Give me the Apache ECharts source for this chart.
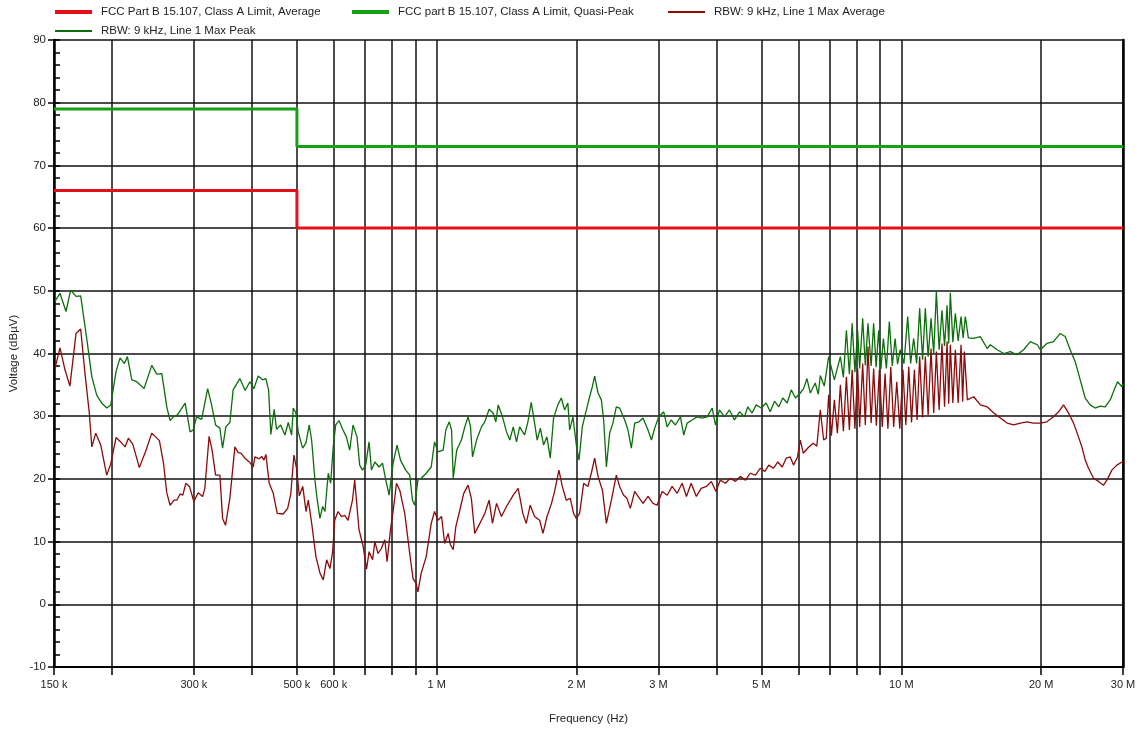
<!DOCTYPE html>
<html lang="en">
<head>
    <meta charset="UTF-8">
    <title>Conducted emissions - Line 1</title>
    <script src="https://cdn.jsdelivr.net/npm/echarts@6.0.0/dist/echarts.min.js"></script>
    <style>
        html, body {
            margin: 0;
            padding: 0;
            background: #fff;
        }

        #main {
            width: 1140px;
            height: 730px;
        }
    </style>
</head>
<body>
<div id="main"></div>
<script type="text/javascript">
    // limit lines (kHz / dBuV)
    var limitFreqKHz = [150, 500, 500, 30000];
    var avgLimit = [66, 66, 60, 60];
    var qpLimit = [79, 79, 73, 73];

    // x axis grid lines and labels (kHz)
    var gridFreqKHz = [150, 200, 300, 400, 500, 600, 700, 800, 900, 1000, 2000, 3000, 4000, 5000,
        6000, 7000, 8000, 9000, 10000, 20000, 30000];
    var labelFreqKHz = [150, 300, 500, 600, 1000, 2000, 3000, 5000, 10000, 20000, 30000];

    // RBW 9 kHz, Line 1 Max Peak  [kHz, dBuV]
    var peakTrace = [[150.7, 48.3], [154.5, 49.6], [159.2, 46.7], [162.9, 50.1], [167.3, 49.1], [171.2, 49.2], [176.2, 42.7],
        [180.9, 36.3], [185.3, 33.4], [190.0, 32.1], [194.8, 31.3], [198.7, 31.8], [204.0, 37.1], [208.1, 39.3], [212.6, 38.4],
        [215.8, 39.5], [220.6, 35.8], [226.1, 35.5], [234.4, 34.4], [243.5, 38.1], [249.6, 36.7], [256.0, 36.8], [262.3, 31.5],
        [266.7, 29.3], [271.1, 29.9], [276.6, 30.2], [287.3, 32.1], [294.5, 27.5], [299.0, 27.8], [304.1, 29.9], [311.8, 29.5],
        [321.2, 34.4], [327.6, 31.8], [334.1, 28.6], [341.3, 28.1], [345.9, 24.9], [351.5, 28.3], [358.6, 29.0], [364.5, 34.2],
        [376.8, 36.0], [386.9, 34.1], [396.0, 35.5], [404.0, 34.4], [412.7, 36.4], [421.8, 35.8], [428.7, 36.0], [434.5, 34.2],
        [439.4, 27.1], [446.7, 31.1], [452.0, 27.9], [461.2, 28.6], [471.1, 27.0], [479.0, 29.0], [487.1, 27.0], [491.0, 31.3],
        [497.6, 30.5], [503.3, 27.5], [514.4, 24.9], [522.8, 25.7], [531.5, 28.6], [537.8, 26.2], [546.7, 19.8], [553.0, 16.6],
        [560.4, 13.7], [568.0, 15.6], [574.5, 14.8], [584.0, 20.9], [591.0, 19.3], [598.5, 25.1], [606.0, 28.6], [616.0, 29.3],
        [628.3, 27.8], [638.8, 26.7], [649.5, 24.6], [660.3, 28.6], [673.5, 26.7], [682.5, 22.2], [691.9, 21.4], [703.2, 22.2],
        [714.9, 25.9], [723.5, 21.4], [735.6, 22.7], [751.5, 21.9], [764.2, 22.5], [776.8, 19.8], [789.6, 17.4], [805.3, 22.5],
        [821.3, 25.4], [835.3, 23.0], [857.4, 21.4], [874.6, 20.6], [886.4, 16.6], [896.6, 15.8], [910.6, 19.8], [926.0, 20.1],
        [949.0, 20.9], [972.9, 21.9], [989.0, 25.9], [1006, 24.3], [1032, 24.6], [1046, 27.8], [1064, 29.1], [1076, 27.8],
        [1085, 20.1], [1104, 24.6], [1130, 26.2], [1149, 28.3], [1168, 29.9], [1182, 28.3], [1194, 23.5], [1218, 26.2],
        [1248, 28.3], [1269, 29.1], [1296, 31.1], [1322, 30.5], [1340, 29.1], [1356, 31.8], [1385, 29.9], [1413, 27.5],
        [1436, 26.2], [1461, 28.3], [1485, 25.9], [1508, 28.3], [1545, 27.0], [1571, 29.1], [1597, 32.2], [1616, 29.9],
        [1645, 26.2], [1671, 28.1], [1698, 25.4], [1726, 26.7], [1755, 23.3], [1784, 29.7], [1822, 31.8], [1854, 32.9],
        [1884, 31.0], [1915, 32.1], [1932, 27.8], [1964, 29.9], [1997, 25.4], [2024, 23.0], [2057, 28.3], [2091, 30.5],
        [2133, 33.1], [2162, 34.7], [2187, 36.4], [2224, 33.7], [2261, 32.6], [2287, 29.4], [2318, 21.9], [2356, 27.3],
        [2394, 28.9], [2435, 31.5], [2475, 31.3], [2538, 29.4], [2580, 27.8], [2623, 24.9], [2667, 28.9], [2725, 29.1],
        [2779, 29.7], [2849, 27.8], [2898, 26.2], [2945, 28.1], [3005, 29.9], [3080, 30.7], [3133, 28.3], [3195, 29.4],
        [3264, 28.6], [3346, 29.9], [3401, 27.0], [3459, 28.9], [3546, 29.4], [3634, 29.9], [3727, 29.7], [3819, 29.9],
        [3916, 31.3], [3980, 28.6], [4060, 31.0], [4162, 29.9], [4266, 31.0], [4373, 29.4], [4483, 30.7], [4596, 29.9],
        [4672, 31.5], [4773, 30.5], [4870, 31.8], [4993, 31.3], [5118, 32.1], [5220, 30.7], [5333, 32.4], [5448, 31.5],
        [5557, 32.9], [5680, 32.1], [5794, 34.2], [5918, 32.9], [6060, 33.7], [6160, 34.4], [6264, 36.0], [6368, 33.7],
        [6527, 35.3], [6625, 33.5], [6692, 36.5], [6825, 34.8], [6975, 39.5], [7175, 35.8], [7392, 39.5], [7503, 36.2],
        [7616, 43.7], [7730, 36.7], [7835, 44.8], [7944, 37.0], [8054, 43.7], [8133, 37.6], [8256, 45.6], [8365, 38.1],
        [8477, 44.8], [8609, 38.0], [8717, 44.8], [8825, 37.8], [8937, 43.7], [9035, 37.5], [9149, 42.4], [9286, 37.6],
        [9423, 45.1], [9560, 38.0], [9696, 42.4], [9815, 38.3], [9938, 40.6], [10130, 38.4], [10320, 45.9], [10472, 38.4],
        [10630, 42.4], [10788, 38.4], [10950, 47.2], [11110, 39.0], [11263, 47.2], [11420, 39.5], [11587, 45.6], [11740, 40.0],
        [11896, 49.9], [12060, 40.6], [12232, 46.9], [12388, 41.2], [12543, 47.7], [12646, 41.6], [12749, 49.7], [12908, 41.8],
        [13070, 46.4], [13253, 42.0], [13444, 45.9], [13584, 42.5], [13734, 45.9], [13940, 42.5], [14312, 42.4], [14794, 42.7],
        [15300, 40.8], [15546, 41.4], [16080, 40.6], [16620, 40.0], [17166, 40.3], [17740, 39.8], [18330, 40.6], [18956, 41.9],
        [19620, 41.4], [19919, 40.6], [20570, 41.6], [21260, 41.9], [21975, 43.2], [22527, 42.7], [23092, 40.6], [23672, 38.7],
        [24266, 35.8], [24875, 32.9], [25499, 31.8], [26139, 31.3], [26795, 31.6], [27468, 31.5], [28158, 32.6], [28720, 34.2],
        [29200, 35.5], [29850, 34.7], [30000, 35.2]];

    // RBW 9 kHz, Line 1 Max Average  [kHz, dBuV]
    var avgTrace = [[150.7, 37.6], [154.5, 40.9], [158.4, 37.4], [162.3, 34.8], [167.3, 43.2], [171.2, 43.9], [174.9, 36.8],
        [178.7, 30.5], [180.9, 25.1], [184.5, 27.3], [189.1, 25.4], [194.8, 20.6], [198.7, 22.4], [204.0, 26.6], [208.8, 25.9],
        [213.3, 25.1], [216.9, 26.5], [221.7, 25.5], [229.0, 21.8], [236.8, 24.6], [243.5, 27.3], [252.9, 26.1], [258.1, 22.5],
        [262.3, 17.8], [266.7, 15.8], [272.0, 16.6], [275.7, 16.6], [280.2, 17.6], [284.0, 17.4], [288.3, 19.3], [293.5, 18.8],
        [300.0, 16.4], [306.5, 17.8], [313.3, 17.2], [316.8, 18.5], [323.6, 26.8], [328.4, 24.6], [334.1, 20.6], [341.3, 20.6],
        [345.9, 13.7], [351.0, 12.6], [358.6, 16.9], [367.6, 25.1], [373.7, 24.2], [378.7, 24.1], [386.3, 23.3], [396.0, 22.6],
        [402.6, 21.9], [406.0, 23.5], [414.8, 23.2], [419.8, 23.6], [424.6, 23.0], [428.7, 23.9], [435.8, 19.3], [444.6, 17.7],
        [453.5, 14.5], [467.1, 14.4], [477.6, 15.3], [485.0, 17.6], [492.6, 23.8], [499.3, 21.6], [506.0, 17.3], [514.7, 18.8],
        [523.0, 14.8], [529.0, 16.6], [538.0, 12.9], [549.4, 7.6], [560.4, 5.0], [569.7, 3.9], [579.4, 7.1], [588.9, 5.7],
        [596.9, 8.4], [603.0, 13.4], [613.0, 14.8], [623.5, 14.0], [633.6, 14.2], [644.2, 13.4], [658.5, 16.6], [665.8, 19.8],
        [680.2, 11.9], [694.0, 9.3], [706.0, 5.6], [715.1, 8.4], [727.5, 7.1], [735.6, 10.0], [747.5, 8.1], [760.0, 8.9],
        [772.9, 10.3], [781.8, 6.8], [795, 11.9], [808, 15.6], [819, 19.3], [832.4, 18.2], [853.2, 14.5], [874.6, 8.1],
        [889.2, 4.1], [903, 3.3], [910.6, 2.0], [926, 5.0], [949, 7.6], [973, 12.9], [989, 14.8], [1006, 13.4], [1024, 14.0],
        [1040, 9.7], [1058, 11.3], [1070, 9.5], [1085, 8.7], [1099, 12.4], [1121, 15.0], [1143, 17.7], [1168, 19.0],
        [1187, 16.9], [1207, 11.3], [1238, 12.9], [1269, 14.5], [1296, 16.6], [1318, 12.9], [1345, 16.1], [1378, 14.0],
        [1413, 15.6], [1461, 17.4], [1497, 18.5], [1532, 14.5], [1558, 12.9], [1589, 15.8], [1624, 14.0], [1665, 13.4],
        [1693, 11.3], [1727, 14.0], [1766, 16.1], [1793, 18.0], [1832, 21.4], [1863, 18.8], [1900, 16.6], [1938, 16.9],
        [1970, 14.5], [1997, 13.7], [2030, 14.5], [2071, 19.3], [2115, 18.8], [2151, 20.9], [2187, 23.3], [2224, 20.4],
        [2273, 18.2], [2318, 12.9], [2376, 16.6], [2435, 20.6], [2475, 18.8], [2525, 17.4], [2567, 16.9], [2610, 15.3],
        [2667, 18.0], [2712, 17.2], [2779, 16.1], [2849, 17.2], [2920, 16.1], [2980, 15.8], [3056, 18.0], [3133, 17.4],
        [3211, 18.8], [3292, 17.7], [3374, 19.3], [3447, 17.2], [3528, 19.3], [3620, 17.2], [3708, 18.5], [3806, 18.8],
        [3900, 19.6], [3990, 18.0], [4074, 19.8], [4183, 19.3], [4281, 20.1], [4395, 19.6], [4499, 20.4], [4619, 19.8],
        [4727, 20.9], [4854, 20.6], [4968, 21.7], [5083, 21.2], [5184, 22.2], [5307, 21.7], [5421, 22.7], [5541, 21.9],
        [5651, 23.3], [5765, 23.5], [5860, 22.2], [5977, 23.5], [6060, 26.2], [6151, 24.1], [6306, 25.0], [6462, 25.7],
        [6577, 25.2], [6692, 31.0], [6804, 26.2], [6893, 26.5], [6975, 33.4], [7070, 26.9], [7175, 32.6], [7284, 27.3],
        [7392, 35.0], [7503, 27.6], [7616, 36.3], [7730, 27.8], [7835, 37.4], [7944, 28.0], [8054, 37.6], [8133, 28.3],
        [8256, 38.4], [8365, 28.6], [8477, 41.1], [8609, 28.9], [8717, 37.6], [8835, 28.5], [8968, 37.4], [9099, 28.3],
        [9226, 36.8], [9356, 28.0], [9490, 37.9], [9627, 28.3], [9776, 35.5], [9923, 28.0], [10080, 37.4], [10226, 28.6],
        [10374, 37.9], [10519, 29.0], [10667, 37.4], [10810, 29.4], [10950, 39.5], [11110, 29.8], [11263, 39.5], [11420, 30.2],
        [11587, 40.8], [11740, 30.5], [11896, 40.3], [12060, 31.0], [12232, 41.6], [12388, 31.5], [12543, 41.9], [12646, 32.0],
        [12749, 41.4], [12908, 32.1], [13070, 40.6], [13253, 32.1], [13444, 41.4], [13550, 32.3], [13665, 40.3], [13870, 32.6],
        [14312, 33.1], [14794, 31.8], [15300, 31.5], [15810, 30.5], [16336, 29.7], [16890, 28.9], [17450, 28.6], [18039, 28.9],
        [18640, 29.1], [19260, 28.9], [19919, 28.9], [20570, 29.1], [21260, 29.9], [21800, 30.7], [22340, 31.8], [22900, 30.5],
        [23480, 28.9], [24060, 26.7], [24470, 25.1], [24875, 23.0], [25290, 21.7], [25930, 20.1], [26570, 19.6], [27240, 19.0],
        [27700, 19.8], [28390, 21.4], [29100, 22.2], [29850, 22.7], [30000, 22.8]];

    var FONT = "'Liberation Sans', Arial, sans-serif";
    var NAME_AVG_LIMIT = 'FCC Part B 15.107, Class A Limit, Average';
    var NAME_QP_LIMIT = 'FCC part B 15.107, Class A Limit, Quasi-Peak';
    var NAME_AVG = 'RBW: 9 kHz, Line 1 Max Average';
    var NAME_PEAK = 'RBW: 9 kHz, Line 1 Max Peak';

    // the x axis is a value axis over log10(Hz)
    function toLog(kHz) {
        return Math.log10(kHz * 1000);
    }

    function traceData(trace) {
        return trace.map(function (p) {
            return [toLog(p[0]), p[1]];
        });
    }

    function limitData(levels) {
        return limitFreqKHz.map(function (f, i) {
            return [toLog(f), levels[i]];
        });
    }

    function freqLabel(v) {
        var hz = Math.round(Math.pow(10, v));
        if (hz >= 1e6) {
            return Math.round(hz / 1e6) + ' M';
        }
        return Math.round(hz / 1e3) + ' k';
    }

    function legendFor(name, left, cy, h) {
        return {
            data: [name],
            left: left,
            top: cy - 7,
            padding: 0,
            icon: 'rect',
            itemWidth: 37,
            itemHeight: h,
            selectedMode: false,
            textStyle: {fontFamily: FONT, fontSize: 11.5, color: '#222', padding: [0, 0, 0, 4]}
        };
    }

    function lineSeries(name, data, color, width) {
        return {
            name: name,
            type: 'line',
            data: data,
            symbol: 'none',
            showSymbol: false,
            silent: true,
            itemStyle: {color: color},
            lineStyle: {color: color, width: width},
            xAxisIndex: 0,
            yAxisIndex: 0
        };
    }

    var myChart = echarts.init(document.getElementById('main'), null, {renderer: 'canvas'});

    var option = {
        animation: false,
        backgroundColor: '#fff',
        grid: {left: 54, right: 17, top: 40, bottom: 63, outerBoundsMode: 'none'},
        legend: [
            legendFor(NAME_AVG_LIMIT, 55, 13, 4),
            legendFor(NAME_QP_LIMIT, 352, 13, 4),
            legendFor(NAME_AVG, 668, 13, 2),
            legendFor(NAME_PEAK, 55, 32, 2)
        ],
        xAxis: {
            type: 'value',
            min: toLog(150),
            max: toLog(30000),
            axisLine: {show: true, onZero: false, lineStyle: {color: '#000', width: 2}},
            axisTick: {
                show: true,
                customValues: gridFreqKHz.map(toLog),
                length: 8,
                lineStyle: {color: '#000', width: 1.5}
            },
            axisLabel: {
                customValues: labelFreqKHz.map(toLog),
                formatter: freqLabel,
                margin: 12,
                fontFamily: FONT,
                fontSize: 11,
                color: '#222'
            },
            splitLine: {show: true, lineStyle: {color: '#111', width: 1.5}},
            name: 'Frequency (Hz)',
            nameLocation: 'middle',
            nameGap: 46,
            nameMoveOverlap: false,
            nameTextStyle: {fontFamily: FONT, fontSize: 11.5, color: '#222', padding: [0, 0, 0, 0]}
        },
        yAxis: [
            {
                type: 'value',
                min: -10,
                max: 90,
                interval: 10,
                axisLine: {show: true, lineStyle: {color: '#000', width: 2.5}},
                axisTick: {show: true, inside: false, length: 6, lineStyle: {color: '#000', width: 1.5}},
                axisLabel: {margin: 8, fontFamily: FONT, fontSize: 11.5, color: '#222'},
                splitLine: {show: true, lineStyle: {color: '#111', width: 1.5}},
                name: 'Voltage (dBµV)',
                nameLocation: 'middle',
                nameGap: 34,
                nameMoveOverlap: false,
                nameTextStyle: {fontFamily: FONT, fontSize: 11.5, color: '#222'}
            },
            {
                // minor ticks every 2 dB, drawn inside the plot
                type: 'value',
                min: -10,
                max: 90,
                interval: 2,
                position: 'left',
                axisLine: {show: false},
                axisTick: {show: true, inside: true, length: 6, lineStyle: {color: '#000', width: 1.5}},
                axisLabel: {show: false},
                splitLine: {show: false}
            },
            {
                // right border of the plot
                type: 'value',
                min: -10,
                max: 90,
                position: 'right',
                axisLine: {show: true, lineStyle: {color: '#000', width: 2.5}},
                axisTick: {show: false},
                axisLabel: {show: false},
                splitLine: {show: false}
            }
        ],
        series: [
            lineSeries(NAME_AVG_LIMIT, limitData(avgLimit), '#e3101a', 3),
            lineSeries(NAME_QP_LIMIT, limitData(qpLimit), '#16a016', 3),
            lineSeries(NAME_PEAK, traceData(peakTrace), '#0b6e0b', 1.3),
            lineSeries(NAME_AVG, traceData(avgTrace), '#8c0a0a', 1.3)
        ]
    };

    myChart.setOption(option);
</script>
</body>
</html>
